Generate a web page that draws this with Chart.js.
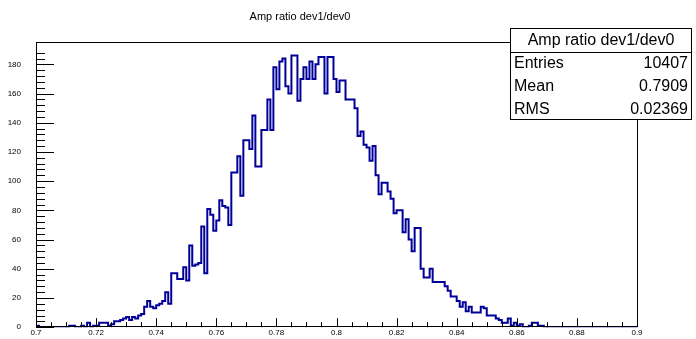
<!DOCTYPE html>
<html>
<head>
<meta charset="utf-8">
<script src="https://cdn.jsdelivr.net/npm/chart.js@4/dist/chart.umd.min.js"></script>
<style>
  html, body { margin: 0; padding: 0; background: #fff; }
  #wrap { width: 696px; height: 339px; }
</style>
</head>
<body>
<div id="wrap"><canvas id="c" width="696" height="339"></canvas></div>
<script>
// histogram: 200 bins from 0.7 to 0.9
const histTitle = 'Amp ratio dev1/dev0';
const xMin = 0.7;
const xMax = 0.9;
const binWidth = 0.001;
const yMax = 195.3;

const counts = [
  1, 0, 0, 0, 0, 0, 0, 0, 0, 0,
  0, 1, 1, 0, 0, 1, 0, 3, 0, 1,
  1, 3, 3, 3, 1, 2, 4, 4, 5, 6,
  7, 5, 7, 6, 8, 9, 14, 18, 14, 13,
  15, 16, 18, 24, 16, 37, 37, 33, 33, 41,
  32, 56, 42, 43, 44, 69, 37, 81, 77, 66,
  73, 87, 83, 82, 70, 106, 106, 117, 90, 128,
  128, 122, 145, 110, 110, 135, 135, 156, 135, 178,
  163, 182, 184, 165, 160, 186, 186, 155, 170, 178,
  170, 182, 170, 180, 185, 185, 160, 185, 185, 170,
  161, 169, 169, 156, 156, 156, 150, 131, 134, 125,
  123, 114, 124, 104, 91, 99, 99, 93, 88, 78,
  80, 80, 65, 74, 60, 52, 68, 68, 40, 34,
  34, 40, 31, 31, 31, 31, 28, 25, 21, 21,
  18, 14, 17, 11, 14, 10, 10, 10, 14, 13,
  8, 8, 8, 6, 5, 3, 3, 6, 1, 3,
  1, 2, 0, 0, 1, 3, 3, 1, 1, 0,
  0, 0, 0, 0, 0, 0, 0, 0, 0, 0,
  0, 0, 0, 0, 0, 0, 0, 0, 0, 0,
  0, 0, 0, 0, 0, 0, 0, 0, 0, 0
];

const xTickLabels = ['0.7', '0.72', '0.74', '0.76', '0.78', '0.8', '0.82', '0.84', '0.86', '0.88', '0.9'];
const yTickLabels = ['0', '20', '40', '60', '80', '100', '120', '140', '160', '180'];

const statsLabels = ['Entries', 'Mean', 'RMS'];
const statsValues = ['10407', '0.7909', '0.02369'];

// step outline: one point per low bin edge, plus the last upper edge
const points = counts.map((v, i) => ({ x: xMin + i * binWidth, y: v }));
points.push({ x: xMax, y: counts[counts.length - 1] });

function labelFor(list, value) {
  const hit = list.find(l => Math.abs(Number(l) - value) < 1e-7);
  return hit === undefined ? '' : hit;
}

const FONT = '"Liberation Sans", Arial, sans-serif';

// ROOT style frame with inward ticks, drawn over the histogram
const rootFrame = {
  id: 'rootFrame',
  afterDatasetsDraw(chart) {
    const ctx = chart.ctx;
    const a = chart.chartArea;
    const xs = chart.scales.x;
    const ys = chart.scales.y;
    ctx.save();
    ctx.strokeStyle = '#000';
    ctx.lineWidth = 1;
    ctx.beginPath();
    xs.ticks.forEach(t => {
      const px = Math.round(xs.getPixelForValue(t.value)) + 0.5;
      const len = labelFor(xTickLabels, t.value) ? 9 : 5;
      ctx.moveTo(px, a.bottom);
      ctx.lineTo(px, a.bottom - len);
    });
    ys.ticks.forEach(t => {
      if (Math.abs(t.value / 4 - Math.round(t.value / 4)) > 1e-6) return;
      const py = Math.round(ys.getPixelForValue(t.value)) + 0.5;
      const len = labelFor(yTickLabels, t.value) ? 18 : 9;
      ctx.moveTo(a.left, py);
      ctx.lineTo(a.left + len, py);
    });
    ctx.stroke();
    ctx.strokeRect(Math.round(a.left) + 0.5, Math.round(a.top) + 0.5,
      Math.round(a.right - a.left), Math.round(a.bottom - a.top) - 1);

    // x labels below the axis
    ctx.fillStyle = '#000';
    ctx.font = '8px ' + FONT;
    ctx.textAlign = 'center';
    ctx.textBaseline = 'top';
    xTickLabels.forEach(l => {
      ctx.fillText(l, xs.getPixelForValue(Number(l)), a.bottom + 2);
    });
    ctx.restore();
  },
  afterDraw(chart) {
    const ctx = chart.ctx;
    ctx.save();
    ctx.fillStyle = '#000';
    // title
    ctx.font = '11px ' + FONT;
    ctx.textAlign = 'center';
    ctx.textBaseline = 'middle';
    ctx.fillText(histTitle, 300, 17);

    // stats box
    const bx = 510.5, by = 28.5, bw = 181, bh = 91;
    ctx.fillStyle = '#fff';
    ctx.fillRect(bx, by, bw, bh);
    ctx.strokeStyle = '#000';
    ctx.lineWidth = 1;
    ctx.strokeRect(bx, by, bw, bh);
    ctx.beginPath();
    ctx.moveTo(bx, 52.5);
    ctx.lineTo(bx + bw, 52.5);
    ctx.stroke();
    ctx.fillStyle = '#000';
    ctx.font = '16px ' + FONT;
    ctx.textAlign = 'center';
    ctx.fillText(histTitle, bx + bw / 2, 41);
    statsLabels.forEach((lab, i) => {
      const y = 64 + i * 22.7;
      ctx.textAlign = 'left';
      ctx.fillText(lab, 514, y);
      ctx.textAlign = 'right';
      ctx.fillText(statsValues[i], 688, y);
    });
    ctx.restore();
  }
};

new Chart(document.getElementById('c'), {
  type: 'line',
  data: {
    datasets: [{
      data: points,
      stepped: 'before',
      borderColor: '#000099',
      borderWidth: 2,
      pointRadius: 0,
      fill: false
    }]
  },
  options: {
    responsive: false,
    animation: false,
    devicePixelRatio: 1,
    layout: { padding: { left: 0, top: 42, right: 59, bottom: 0 } },
    plugins: {
      legend: { display: false },
      tooltip: { enabled: false },
      title: { display: false }
    },
    scales: {
      x: {
        type: 'linear',
        min: xMin,
        max: xMax,
        grid: { display: false },
        border: { display: false },
        ticks: {
          stepSize: 0.005,
          autoSkip: false,
          maxRotation: 0,
          display: false
        },
        afterFit: s => { s.height = 10; }
      },
      y: {
        min: 0,
        max: yMax,
        grid: { display: false },
        border: { display: false },
        ticks: {
          stepSize: 4,
          autoSkip: false,
          padding: 7,
          color: '#000',
          font: { family: FONT, size: 8 },
          callback: v => labelFor(yTickLabels, v)
        },
        afterFit: s => { s.width = 36; }
      }
    }
  },
  plugins: [rootFrame]
});
</script>
</body>
</html>
